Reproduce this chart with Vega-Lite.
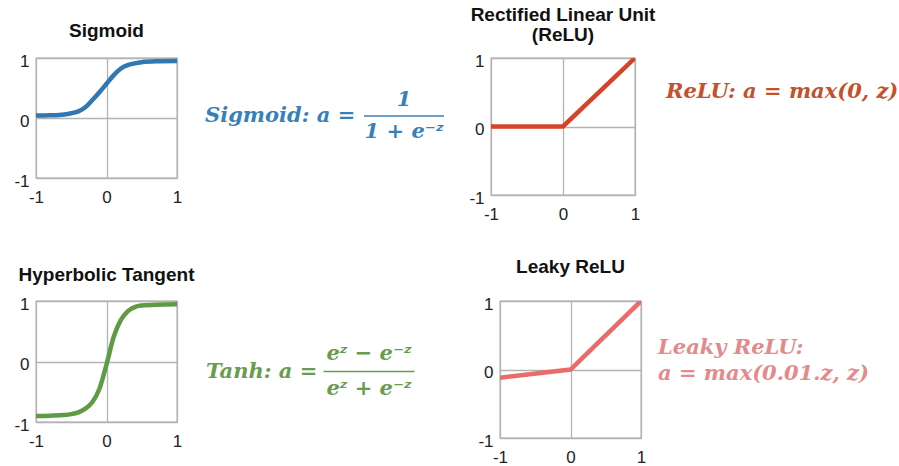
{
  "$schema": "https://vega.github.io/schema/vega-lite/v6.json",
  "padding": {"left": 13, "top": 5, "right": 0, "bottom": 0},
  "background": "white",
  "config": {
    "view": {"stroke": "#ababab", "strokeWidth": 1.3},
    "axis": {
      "grid": true,
      "gridColor": "#b3b3b3",
      "gridWidth": 1.3,
      "domain": false,
      "ticks": false,
      "title": null,
      "labelFont": "Liberation Sans",
      "labelFontSize": 17,
      "labelColor": "#222222",
      "labelFlush": false,
      "labelExpr": "datum.value < 0 ? '-' + (-datum.value) : '' + datum.value"
    },
    "axisX": {"labelPadding": 11},
    "axisY": {"labelPadding": 7, "labelOffset": 3},
    "title": {
      "font": "Liberation Sans",
      "fontSize": 19,
      "fontWeight": "bold",
      "color": "#111111",
      "anchor": "middle",
      "frame": "group",
      "baseline": "alphabetic",
      "lineHeight": 20
    },
    "text": {"font": "DejaVu Serif", "fontStyle": "italic", "fontWeight": "bold", "fontSize": 21, "baseline": "middle"}
  },
  "bounds": "full",
  "spacing": 34,
  "vconcat": [
    {
      "bounds": "flush",
      "spacing": 0,
      "hconcat": [
        {
          "width": 141,
          "height": 120,
          "title": {"text": "Sigmoid", "offset": 11},
          "data": {"values": [
            {"z": -1, "a": 0.04}, {"z": -0.8, "a": 0.045}, {"z": -0.6, "a": 0.06}, {"z": -0.5, "a": 0.08},
            {"z": -0.4, "a": 0.11}, {"z": -0.3, "a": 0.18}, {"z": -0.2, "a": 0.3}, {"z": -0.1, "a": 0.43},
            {"z": 0, "a": 0.57}, {"z": 0.1, "a": 0.71}, {"z": 0.2, "a": 0.82}, {"z": 0.3, "a": 0.88},
            {"z": 0.4, "a": 0.91}, {"z": 0.5, "a": 0.93}, {"z": 0.7, "a": 0.945}, {"z": 1, "a": 0.95}
          ]},
          "mark": {"type": "line", "color": "#2f78b3", "strokeWidth": 4.5, "clip": true, "interpolate": "monotone"},
          "encoding": {
            "x": {"field": "z", "type": "quantitative", "scale": {"domain": [-1, 1], "nice": false, "zero": false}, "axis": {"values": [-1, 0, 1]}},
            "y": {"field": "a", "type": "quantitative", "scale": {"domain": [-1, 1], "nice": false, "zero": false}, "axis": {"values": [-1, 0, 1]}}
          }
        },
        {
          "width": 314,
          "height": 120,
          "view": {"stroke": null},
          "data": {"values": [
            {"part": "lhs", "line": "main", "text": "Sigmoid: a ="},
            {"part": "frac", "line": "num", "text": "1"},
            {"part": "frac", "line": "den", "text": "1 + e⁻ᶻ"}
          ]},
          "encoding": {
            "x": {"field": "part", "type": "nominal", "scale": {"type": "point", "domain": ["lhs", "frac"], "range": [28, 227], "padding": 0}, "axis": null},
            "y": {"field": "line", "type": "nominal", "scale": {"type": "point", "domain": ["num", "main", "den"], "range": [42, 74], "padding": 0}, "axis": null}
          },
          "layer": [
            {
              "transform": [{"filter": "datum.part == 'lhs'"}],
              "mark": {"type": "text", "align": "left", "color": "#3a80b8"},
              "encoding": {"text": {"field": "text"}}
            },
            {
              "transform": [{"filter": "datum.part == 'frac'"}],
              "mark": {"type": "text", "align": "center", "color": "#3a80b8"},
              "encoding": {"text": {"field": "text"}}
            },
            {
              "transform": [{"filter": "datum.line == 'num'"}],
              "mark": {"type": "tick", "orient": "horizontal", "size": 80, "thickness": 1.6, "color": "#3a80b8", "opacity": 1},
              "encoding": {"y": {"datum": "main", "type": "nominal"}}
            }
          ]
        },
        {
          "width": 144,
          "height": 137,
          "title": {"text": ["Rectified Linear Unit", "(ReLU)"], "offset": 7},
          "data": {"values": [
            {"z": -1, "a": 0}, {"z": 0, "a": 0}, {"z": 1, "a": 1}
          ]},
          "mark": {"type": "line", "color": "#d5442a", "strokeWidth": 4.5, "clip": true},
          "encoding": {
            "x": {"field": "z", "type": "quantitative", "scale": {"domain": [-1, 1], "nice": false, "zero": false}, "axis": {"values": [-1, 0, 1]}},
            "y": {"field": "a", "type": "quantitative", "scale": {"domain": [-1, 1], "nice": false, "zero": false}, "axis": {"values": [-1, 0, 1]}}
          }
        },
        {
          "width": 255,
          "height": 120,
          "view": {"stroke": null},
          "data": {"values": [
            {"part": "lhs", "line": "main", "text": "ReLU: a = max(0, z)"}
          ]},
          "mark": {"type": "text", "align": "left", "color": "#c4502c"},
          "encoding": {
            "x": {"field": "part", "type": "nominal", "scale": {"type": "point", "domain": ["lhs"], "range": [31, 31], "padding": 0}, "axis": null},
            "y": {"field": "line", "type": "nominal", "scale": {"type": "point", "domain": ["main"], "range": [34, 34], "padding": 0}, "axis": null},
            "text": {"field": "text"}
          }
        }
      ]
    },
    {
      "bounds": "flush",
      "spacing": 0,
      "hconcat": [
        {
          "width": 141,
          "height": 121,
          "title": {"text": "Hyperbolic Tangent", "offset": 10},
          "data": {"values": [
            {"z": -1, "a": -0.9}, {"z": -0.8, "a": -0.895}, {"z": -0.6, "a": -0.885}, {"z": -0.5, "a": -0.87},
            {"z": -0.4, "a": -0.84}, {"z": -0.3, "a": -0.78}, {"z": -0.2, "a": -0.67}, {"z": -0.1, "a": -0.45},
            {"z": 0, "a": -0.05}, {"z": 0.1, "a": 0.4}, {"z": 0.2, "a": 0.68}, {"z": 0.3, "a": 0.83},
            {"z": 0.4, "a": 0.9}, {"z": 0.5, "a": 0.925}, {"z": 0.7, "a": 0.94}, {"z": 1, "a": 0.945}
          ]},
          "mark": {"type": "line", "color": "#5f9b45", "strokeWidth": 4.5, "clip": true, "interpolate": "monotone"},
          "encoding": {
            "x": {"field": "z", "type": "quantitative", "scale": {"domain": [-1, 1], "nice": false, "zero": false}, "axis": {"values": [-1, 0, 1]}},
            "y": {"field": "a", "type": "quantitative", "scale": {"domain": [-1, 1], "nice": false, "zero": false}, "axis": {"values": [-1, 0, 1]}}
          }
        },
        {
          "width": 323,
          "height": 121,
          "view": {"stroke": null},
          "data": {"values": [
            {"part": "lhs", "line": "main", "text": "Tanh: a ="},
            {"part": "frac", "line": "num", "text": "eᶻ − e⁻ᶻ"},
            {"part": "frac", "line": "den", "text": "eᶻ + e⁻ᶻ"}
          ]},
          "encoding": {
            "x": {"field": "part", "type": "nominal", "scale": {"type": "point", "domain": ["lhs", "frac"], "range": [29, 192], "padding": 0}, "axis": null},
            "y": {"field": "line", "type": "nominal", "scale": {"type": "point", "domain": ["num", "main", "den"], "range": [53, 88], "padding": 0}, "axis": null}
          },
          "layer": [
            {
              "transform": [{"filter": "datum.part == 'lhs'"}],
              "mark": {"type": "text", "align": "left", "color": "#6a9c50"},
              "encoding": {"text": {"field": "text"}}
            },
            {
              "transform": [{"filter": "datum.part == 'frac'"}],
              "mark": {"type": "text", "align": "center", "color": "#6a9c50"},
              "encoding": {"text": {"field": "text"}}
            },
            {
              "transform": [{"filter": "datum.line == 'num'"}],
              "mark": {"type": "tick", "orient": "horizontal", "size": 91, "thickness": 1.6, "color": "#6a9c50", "opacity": 1},
              "encoding": {"y": {"datum": "main", "type": "nominal"}}
            }
          ]
        },
        {
          "width": 141,
          "height": 137,
          "title": {"text": "Leaky ReLU", "offset": 18},
          "data": {"values": [
            {"z": -1, "a": -0.12}, {"z": 0, "a": 0}, {"z": 1, "a": 1}
          ]},
          "mark": {"type": "line", "color": "#eb6a6a", "strokeWidth": 4.5, "clip": true},
          "encoding": {
            "x": {"field": "z", "type": "quantitative", "scale": {"domain": [-1, 1], "nice": false, "zero": false}, "axis": {"values": [-1, 0, 1]}},
            "y": {"field": "a", "type": "quantitative", "scale": {"domain": [-1, 1], "nice": false, "zero": false}, "axis": {"values": [-1, 0, 1]}}
          }
        },
        {
          "width": 240,
          "height": 121,
          "view": {"stroke": null},
          "data": {"values": [
            {"part": "lhs", "line": "first", "text": "Leaky ReLU:"},
            {"part": "lhs", "line": "second", "text": "a = max(0.01.z, z)"}
          ]},
          "mark": {"type": "text", "align": "left", "color": "#e38a8c"},
          "encoding": {
            "x": {"field": "part", "type": "nominal", "scale": {"type": "point", "domain": ["lhs"], "range": [17, 17], "padding": 0}, "axis": null},
            "y": {"field": "line", "type": "nominal", "scale": {"type": "point", "domain": ["first", "second"], "range": [47, 73], "padding": 0}, "axis": null},
            "text": {"field": "text"}
          }
        }
      ]
    }
  ]
}
